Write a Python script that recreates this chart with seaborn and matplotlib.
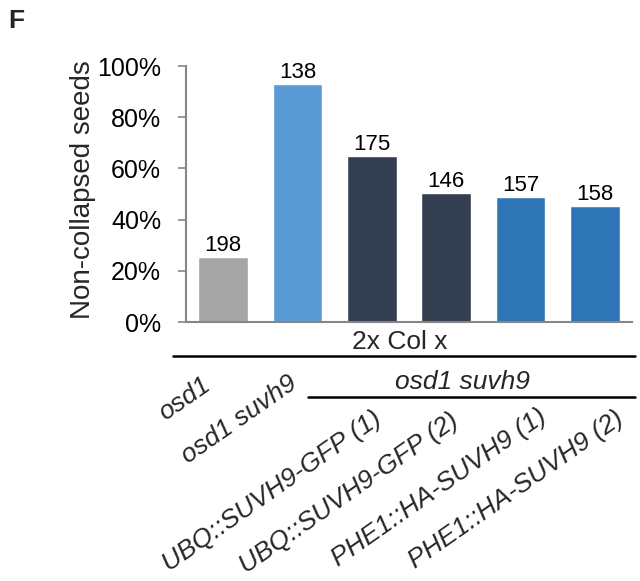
import matplotlib
matplotlib.use("Agg")
import matplotlib.pyplot as plt
import seaborn as sns
from matplotlib.ticker import PercentFormatter
from matplotlib.lines import Line2D
from matplotlib.transforms import blended_transform_factory

# data
genotypes = ["osd1", "osd1 suvh9", "UBQ::SUVH9-GFP (1)", "UBQ::SUVH9-GFP (2)",
             "PHE1::HA-SUVH9 (1)", "PHE1::HA-SUVH9 (2)"]
non_collapsed = [25.3, 92.8, 64.8, 50.4, 48.8, 45.3]
n_seeds = [198, 138, 175, 146, 157, 158]
bar_colors = ["#A5A5A5", "#5B9BD5", "#333F50", "#333F50", "#2E75B6", "#2E75B6"]

sns.set_theme(style="white")
plt.rcParams["font.family"] = ["Liberation Sans", "DejaVu Sans"]

W, H = 640, 581
fig = plt.figure(figsize=(W / 100, H / 100), dpi=100)
ax = fig.add_axes([186 / W, 1 - 322 / H, (632 - 186) / W, (322 - 66) / H])

sns.barplot(x=genotypes, y=non_collapsed, hue=genotypes, palette=bar_colors,
            legend=False, width=0.67, saturation=1, ax=ax)

for i, (v, n) in enumerate(zip(non_collapsed, n_seeds)):
    ax.text(i, v + 0.5, str(n), ha="center", va="bottom", fontsize=16, color="black")

ax.set_xlim(-0.5, 5.5)
ax.set_ylim(0, 100)
ax.set_yticks(range(0, 101, 20))
ax.yaxis.set_major_formatter(PercentFormatter(100, decimals=0))
ax.set_xticks([])
ax.set_xlabel("")
ax.set_ylabel("")
ax.tick_params(axis="y", left=True, length=6, width=1.2, color="#868686",
               labelsize=18, pad=12, labelcolor="black")
for s in ["top", "right"]:
    ax.spines[s].set_visible(False)
for s in ["left", "bottom"]:
    ax.spines[s].set_color("#868686")
    ax.spines[s].set_linewidth(1.5)

fig.text(83 / W, 1 - 190 / H, "Non-collapsed seeds", rotation=90,
         ha="center", va="center", fontsize=20)

# annotation below the axis
tr = blended_transform_factory(ax.transData, fig.transFigure)
fig.text(400 / W, 1 - 342 / H, "2x Col x", ha="center", va="center", fontsize=19)
fig.add_artist(Line2D([173 / W, 635 / W], [1 - 356 / H] * 2, color="black", lw=1.8))
fig.text(462 / W, 1 - 382 / H, "osd1 suvh9", ha="center", va="center",
         fontsize=19, style="italic")
fig.add_artist(Line2D([308 / W, 635 / W], [1 - 397 / H] * 2, color="black", lw=1.8))

label_dx = [-0.3, -0.13, 0.0, 0.04, 0.22, 0.26]
label_top = [373, 371, 406, 408, 404, 406]
for i, g in enumerate(genotypes):
    ax.text(i + label_dx[i], 1 - label_top[i] / H, g, transform=tr, rotation=35,
            rotation_mode="anchor", ha="right", va="top", fontsize=19,
            style="italic", clip_on=False)

fig.text(8 / W, 1 - 21 / H, "F", ha="left", va="center", fontsize=19, fontweight="bold")

fig.savefig("out.png", dpi=100)
